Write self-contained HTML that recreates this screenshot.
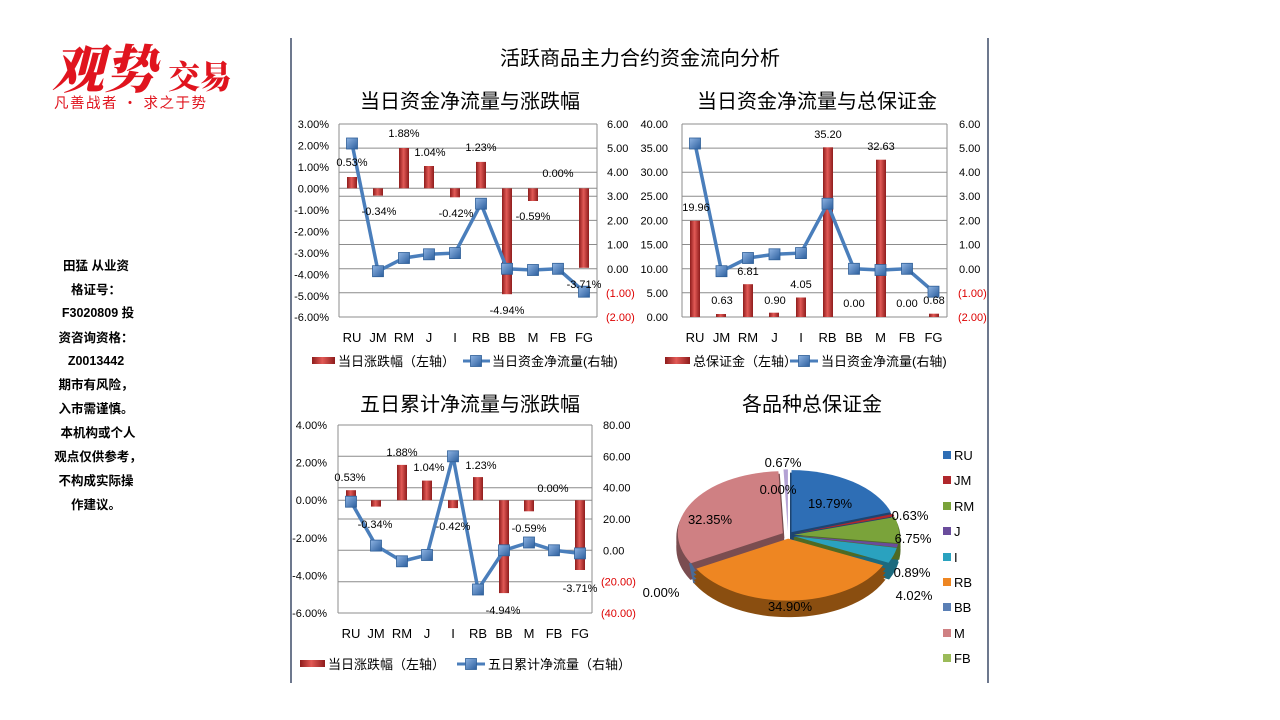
<!DOCTYPE html>
<html><head><meta charset="utf-8"><style>
html,body{margin:0;padding:0;background:#fff;}
svg{display:block;font-family:"Liberation Sans","Noto Sans CJK SC",sans-serif;}
</style></head><body>
<svg width="1280" height="720" viewBox="0 0 1280 720" xmlns="http://www.w3.org/2000/svg">
<defs>
<linearGradient id="bar" x1="0" x2="1" y1="0" y2="0"><stop offset="0" stop-color="#8e1c1c"/><stop offset="0.45" stop-color="#e25a56"/><stop offset="1" stop-color="#8e1c1c"/></linearGradient>
<linearGradient id="mk" x1="0" x2="1" y1="0" y2="1"><stop offset="0" stop-color="#8fb4e3"/><stop offset="1" stop-color="#2c5f9e"/></linearGradient>
<rect id="m" x="-5.5" y="-5.5" width="11" height="11" fill="url(#mk)" stroke="#2f5f98" stroke-width="0.8"/>
</defs>
<rect width="1280" height="720" fill="#fff"/>
<!-- logo -->
<text x="52" y="88" font-family="'Noto Serif CJK SC',serif" font-size="52" font-weight="900" fill="#e0141e" font-style="italic">观势</text>
<text x="168" y="88" font-family="'Noto Serif CJK SC',serif" font-size="32" font-weight="900" fill="#e0141e">交易</text>
<text x="54" y="108" font-family="'Noto Sans CJK SC',sans-serif" font-size="14.5" fill="#e0141e" letter-spacing="1.5">凡善战者 · 求之于势</text>
<!-- left text -->
<g font-size="12.5" font-weight="bold" fill="#000" text-anchor="middle" font-family="'Liberation Sans','Noto Sans CJK SC',sans-serif">
<text x="96" y="270">田猛 从业资</text><text x="96" y="294">格证号：</text><text x="98" y="317">F3020809 投</text>
<text x="96" y="342">资咨询资格：</text><text x="96" y="365">Z0013442</text><text x="96" y="389">期市有风险，</text>
<text x="96" y="413">入市需谨慎。</text><text x="98" y="437">本机构或个人</text><text x="98" y="461">观点仅供参考，</text>
<text x="96" y="485">不构成实际操</text><text x="96" y="509">作建议。</text>
</g>
<line x1="291" y1="38" x2="291" y2="683" stroke="#1f2f50" stroke-width="1.3"/>
<line x1="988" y1="38" x2="988" y2="683" stroke="#1f2f50" stroke-width="1.3"/>
<!-- titles -->
<g font-size="20" text-anchor="middle" fill="#000">
<text x="640" y="65">活跃商品主力合约资金流向分析</text>
<text x="470" y="108">当日资金净流量与涨跌幅</text>
<text x="817" y="108">当日资金净流量与总保证金</text>
<text x="470" y="411">五日累计净流量与涨跌幅</text>
<text x="812" y="411">各品种总保证金</text>
</g>

<!-- CHART 1 -->
<g stroke="#8c8c8c" stroke-width="1">
<line x1="339" y1="124" x2="597" y2="124"/><line x1="339" y1="148.1" x2="597" y2="148.1"/><line x1="339" y1="172.2" x2="597" y2="172.2"/><line x1="339" y1="196.3" x2="597" y2="196.3"/><line x1="339" y1="220.4" x2="597" y2="220.4"/><line x1="339" y1="244.5" x2="597" y2="244.5"/><line x1="339" y1="268.8" x2="597" y2="268.8"/><line x1="339" y1="292.7" x2="597" y2="292.7"/><line x1="339" y1="317" x2="597" y2="317"/>
<line x1="339" y1="188.3" x2="597" y2="188.3"/>
<line x1="339" y1="124" x2="339" y2="317"/><line x1="597" y1="124" x2="597" y2="317"/>
</g>
<g font-size="11" text-anchor="end"><text x="329" y="128">3.00%</text><text x="329" y="149.5">2.00%</text><text x="329" y="171">1.00%</text><text x="329" y="192.5">0.00%</text><text x="329" y="214">-1.00%</text><text x="329" y="235.5">-2.00%</text><text x="329" y="257">-3.00%</text><text x="329" y="278.5">-4.00%</text><text x="329" y="300">-5.00%</text><text x="329" y="321">-6.00%</text></g>
<g font-size="11"><text x="607" y="128">6.00</text><text x="607" y="152">5.00</text><text x="607" y="176">4.00</text><text x="607" y="200">3.00</text><text x="607" y="224.5">2.00</text><text x="607" y="248.5">1.00</text><text x="607" y="273">0.00</text><text x="606" y="297" fill="#d00">(1.00)</text><text x="606" y="321" fill="#d00">(2.00)</text></g>
<g fill="url(#bar)">
<rect x="347" y="177" width="10" height="11.3"/><rect x="373" y="188.3" width="10" height="7.3"/><rect x="399" y="148" width="10" height="40.3"/><rect x="424" y="166" width="10" height="22.3"/><rect x="450" y="188.3" width="10" height="9"/><rect x="476" y="161.9" width="10" height="26.4"/><rect x="502" y="188.3" width="10" height="105.9"/><rect x="528" y="188.3" width="10" height="12.7"/><rect x="579" y="188.3" width="10" height="79.5"/>
</g>
<polyline points="352,143.5 378,271.2 404,258 429,254.3 455,253.1 481,203.7 507,268.8 533,270 558,268.8 584,291.7" fill="none" stroke="#4a7ebb" stroke-width="3.5"/>
<use href="#m" x="352" y="143.5"/><use href="#m" x="378" y="271.2"/><use href="#m" x="404" y="258"/><use href="#m" x="429" y="254.3"/><use href="#m" x="455" y="253.1"/><use href="#m" x="481" y="203.7"/><use href="#m" x="507" y="268.8"/><use href="#m" x="533" y="270"/><use href="#m" x="558" y="268.8"/><use href="#m" x="584" y="291.7"/>
<g font-size="11" text-anchor="middle"><text x="352" y="166">0.53%</text><text x="379" y="215">-0.34%</text><text x="404" y="137">1.88%</text><text x="430" y="156">1.04%</text><text x="456" y="217">-0.42%</text><text x="481" y="151">1.23%</text><text x="507" y="314">-4.94%</text><text x="533" y="220">-0.59%</text><text x="558" y="177">0.00%</text><text x="584" y="288">-3.71%</text></g>
<g font-size="13" text-anchor="middle"><text x="352" y="342">RU</text><text x="378" y="342">JM</text><text x="404" y="342">RM</text><text x="429" y="342">J</text><text x="455" y="342">I</text><text x="481" y="342">RB</text><text x="507" y="342">BB</text><text x="533" y="342">M</text><text x="558" y="342">FB</text><text x="584" y="342">FG</text></g>
<rect x="312" y="357" width="23" height="7" fill="url(#bar)"/><text x="338" y="366" font-size="13">当日涨跌幅（左轴）</text>
<line x1="463" y1="361" x2="490" y2="361" stroke="#4a7ebb" stroke-width="3"/><use href="#m" x="476" y="361"/><text x="492" y="366" font-size="13">当日资金净流量(右轴)</text>

<!-- CHART 2 -->
<g stroke="#8c8c8c" stroke-width="1">
<line x1="682" y1="124" x2="947" y2="124"/><line x1="682" y1="148.1" x2="947" y2="148.1"/><line x1="682" y1="172.2" x2="947" y2="172.2"/><line x1="682" y1="196.3" x2="947" y2="196.3"/><line x1="682" y1="220.4" x2="947" y2="220.4"/><line x1="682" y1="244.5" x2="947" y2="244.5"/><line x1="682" y1="268.8" x2="947" y2="268.8"/><line x1="682" y1="292.7" x2="947" y2="292.7"/><line x1="682" y1="317" x2="947" y2="317"/>
<line x1="682" y1="124" x2="682" y2="317"/><line x1="947" y1="124" x2="947" y2="317"/>
</g>
<g font-size="11" text-anchor="end"><text x="668" y="128">40.00</text><text x="668" y="152">35.00</text><text x="668" y="176">30.00</text><text x="668" y="200">25.00</text><text x="668" y="224.5">20.00</text><text x="668" y="248.5">15.00</text><text x="668" y="273">10.00</text><text x="668" y="297">5.00</text><text x="668" y="321">0.00</text></g>
<g font-size="11"><text x="959" y="128">6.00</text><text x="959" y="152">5.00</text><text x="959" y="176">4.00</text><text x="959" y="200">3.00</text><text x="959" y="224.5">2.00</text><text x="959" y="248.5">1.00</text><text x="959" y="273">0.00</text><text x="958" y="297" fill="#d00">(1.00)</text><text x="958" y="321" fill="#d00">(2.00)</text></g>
<g fill="url(#bar)">
<rect x="690" y="220.8" width="10" height="96.2"/><rect x="716" y="314" width="10" height="3"/><rect x="743" y="284.2" width="10" height="32.8"/><rect x="769" y="312.7" width="10" height="4.3"/><rect x="796" y="297.5" width="10" height="19.5"/><rect x="823" y="147.3" width="10" height="169.7"/><rect x="876" y="159.7" width="10" height="157.3"/><rect x="929" y="313.7" width="10" height="3.3"/>
</g>
<polyline points="695,143.5 721.5,271.2 748,258 774.5,254.3 801,253.1 827.5,203.7 854,268.8 880.5,270 907,268.8 933.5,291.7" fill="none" stroke="#4a7ebb" stroke-width="3.5"/>
<use href="#m" x="695" y="143.5"/><use href="#m" x="721.5" y="271.2"/><use href="#m" x="748" y="258"/><use href="#m" x="774.5" y="254.3"/><use href="#m" x="801" y="253.1"/><use href="#m" x="827.5" y="203.7"/><use href="#m" x="854" y="268.8"/><use href="#m" x="880.5" y="270"/><use href="#m" x="907" y="268.8"/><use href="#m" x="933.5" y="291.7"/>
<g font-size="11" text-anchor="middle"><text x="696" y="211">19.96</text><text x="722" y="304">0.63</text><text x="748" y="275">6.81</text><text x="775" y="304">0.90</text><text x="801" y="288">4.05</text><text x="828" y="138">35.20</text><text x="854" y="307">0.00</text><text x="881" y="150">32.63</text><text x="907" y="307">0.00</text><text x="934" y="304">0.68</text></g>
<g font-size="13" text-anchor="middle"><text x="695" y="342">RU</text><text x="721.5" y="342">JM</text><text x="748" y="342">RM</text><text x="774.5" y="342">J</text><text x="801" y="342">I</text><text x="827.5" y="342">RB</text><text x="854" y="342">BB</text><text x="880.5" y="342">M</text><text x="907" y="342">FB</text><text x="933.5" y="342">FG</text></g>
<rect x="665" y="357" width="25" height="7" fill="url(#bar)"/><text x="693" y="366" font-size="13">总保证金（左轴）</text>
<line x1="790" y1="361" x2="818" y2="361" stroke="#4a7ebb" stroke-width="3"/><use href="#m" x="804" y="361"/><text x="821" y="366" font-size="13">当日资金净流量(右轴)</text>

<!-- CHART 3 -->
<g stroke="#8c8c8c" stroke-width="1">
<line x1="338" y1="425" x2="592" y2="425"/><line x1="338" y1="456.3" x2="592" y2="456.3"/><line x1="338" y1="487.7" x2="592" y2="487.7"/><line x1="338" y1="519" x2="592" y2="519"/><line x1="338" y1="550.3" x2="592" y2="550.3"/><line x1="338" y1="581.7" x2="592" y2="581.7"/><line x1="338" y1="613" x2="592" y2="613"/>
<line x1="338" y1="500.2" x2="592" y2="500.2"/>
<line x1="338" y1="425" x2="338" y2="613"/><line x1="592" y1="425" x2="592" y2="613"/>
</g>
<g font-size="11" text-anchor="end"><text x="327" y="429">4.00%</text><text x="327" y="466.6">2.00%</text><text x="327" y="504.2">0.00%</text><text x="327" y="541.8">-2.00%</text><text x="327" y="579.4">-4.00%</text><text x="327" y="617">-6.00%</text></g>
<g font-size="11"><text x="603" y="429">80.00</text><text x="603" y="460.3">60.00</text><text x="603" y="491.7">40.00</text><text x="603" y="523">20.00</text><text x="603" y="554.3">0.00</text><text x="601" y="585.7" fill="#d00">(20.00)</text><text x="601" y="617" fill="#d00">(40.00)</text></g>
<g fill="url(#bar)">
<rect x="346" y="490.2" width="10" height="10"/><rect x="371" y="500.2" width="10" height="6.4"/><rect x="397" y="464.9" width="10" height="35.3"/><rect x="422" y="480.6" width="10" height="19.6"/><rect x="448" y="500.2" width="10" height="7.9"/><rect x="473" y="477.1" width="10" height="23.1"/><rect x="499" y="500.2" width="10" height="92.9"/><rect x="524" y="500.2" width="10" height="11.1"/><rect x="575" y="500.2" width="10" height="69.8"/>
</g>
<polyline points="351,501.7 376,545.6 402,561.3 427,555 453,456.3 478,589.5 504,550.3 529,542.5 554,550.3 580,553.4" fill="none" stroke="#4a7ebb" stroke-width="3.5"/>
<use href="#m" x="351" y="501.7"/><use href="#m" x="376" y="545.6"/><use href="#m" x="402" y="561.3"/><use href="#m" x="427" y="555"/><use href="#m" x="453" y="456.3"/><use href="#m" x="478" y="589.5"/><use href="#m" x="504" y="550.3"/><use href="#m" x="529" y="542.5"/><use href="#m" x="554" y="550.3"/><use href="#m" x="580" y="553.4"/>
<g font-size="11" text-anchor="middle"><text x="350" y="481">0.53%</text><text x="375" y="528">-0.34%</text><text x="402" y="456">1.88%</text><text x="429" y="471">1.04%</text><text x="453" y="530">-0.42%</text><text x="481" y="469">1.23%</text><text x="503" y="614">-4.94%</text><text x="529" y="532">-0.59%</text><text x="553" y="492">0.00%</text><text x="580" y="592">-3.71%</text></g>
<g font-size="13" text-anchor="middle"><text x="351" y="638">RU</text><text x="376" y="638">JM</text><text x="402" y="638">RM</text><text x="427" y="638">J</text><text x="453" y="638">I</text><text x="478" y="638">RB</text><text x="504" y="638">BB</text><text x="529" y="638">M</text><text x="554" y="638">FB</text><text x="580" y="638">FG</text></g>
<rect x="300" y="660" width="25" height="7" fill="url(#bar)"/><text x="328" y="669" font-size="13">当日涨跌幅（左轴）</text>
<line x1="457" y1="664" x2="485" y2="664" stroke="#4a7ebb" stroke-width="3"/><use href="#m" x="471" y="664"/><text x="488" y="669" font-size="13">五日累计净流量（右轴）</text>

<!-- PIE -->
<defs>
<path id="pRU" d="M791.5 532.1 L791.5 470.1 A105 62 0 0 1 890.9 512.1 Z"/>
<path id="pJM" d="M793.7 533.9 L893.1 513.9 A105 62 0 0 1 894.4 516.3 Z"/>
<path id="pRM" d="M794 534.7 L894.7 517.1 A105 62 0 0 1 898.1 543.1 Z"/>
<path id="pJ" d="M793.9 535.6 L898 544 A105 62 0 0 1 897 547.4 Z"/>
<path id="pI" d="M793.7 536.1 L896.8 547.9 A105 62 0 0 1 888.5 562.8 Z"/>
<path id="pRB" d="M788.2 538.6 L883 565.3 A105 62 0 0 1 696.3 568.6 Z"/>
<path id="pM" d="M782.8 533.2 L690.9 563.2 A105 62 0 0 1 778.4 471.3 Z"/>
<path id="pFG" d="M787.9 531.4 L783.5 469.5 A105 62 0 0 1 787.9 469.4 Z"/>
</defs>
<g>
<g fill="#1d4470" stroke="#1d4470" stroke-width="3"><use href="#pRU" y="4"/><use href="#pRU" y="8"/><use href="#pRU" y="12"/><use href="#pRU" y="15"/></g>
<g fill="#7a4d50" stroke="#7a4d50" stroke-width="3"><use href="#pM" y="4"/><use href="#pM" y="8"/><use href="#pM" y="12"/><use href="#pM" y="15"/></g>
<g fill="#4a6a96" stroke="#4a6a96" stroke-width="2"><path d="M690 563 L694 582 L700 580 Z"/></g>
<g fill="#1c6a7e" stroke="#1c6a7e" stroke-width="3"><use href="#pI" y="4"/><use href="#pI" y="8"/><use href="#pI" y="12"/><use href="#pI" y="15"/></g>
<g fill="#4e6a24" stroke="#4e6a24" stroke-width="3"><use href="#pRM" y="4"/><use href="#pRM" y="8"/><use href="#pRM" y="12"/><use href="#pRM" y="15"/></g>
<g fill="#8a4e10" stroke="#8a4e10" stroke-width="3"><use href="#pRB" y="4"/><use href="#pRB" y="8"/><use href="#pRB" y="12"/><use href="#pRB" y="15"/></g>
<use href="#pRU" fill="#2e6eb5"/>
<use href="#pJM" fill="#b0282c"/>
<use href="#pRM" fill="#7aa33a"/>
<use href="#pJ" fill="#6a4c9c"/>
<use href="#pI" fill="#2aa2bf"/>
<use href="#pRB" fill="#ee8622"/>
<use href="#pM" fill="#cf8083"/>
<use href="#pFG" fill="#b4a2d4"/>
</g>
<g font-size="13" text-anchor="middle" fill="#000">
<text x="830" y="508">19.79%</text><text x="910" y="520">0.63%</text><text x="913" y="543">6.75%</text><text x="912" y="577">0.89%</text><text x="914" y="600">4.02%</text><text x="790" y="611">34.90%</text><text x="710" y="524">32.35%</text><text x="661" y="597">0.00%</text><text x="778" y="494">0.00%</text><text x="783" y="467">0.67%</text>
</g>
<g font-size="13">
<rect x="943" y="451" width="8" height="8" fill="#2e6eb5"/><text x="954" y="460">RU</text>
<rect x="943" y="476" width="8" height="8" fill="#b0282c"/><text x="954" y="485">JM</text>
<rect x="943" y="502" width="8" height="8" fill="#7aa33a"/><text x="954" y="511">RM</text>
<rect x="943" y="527" width="8" height="8" fill="#6a4c9c"/><text x="954" y="536">J</text>
<rect x="943" y="553" width="8" height="8" fill="#2aa2bf"/><text x="954" y="562">I</text>
<rect x="943" y="578" width="8" height="8" fill="#ee8622"/><text x="954" y="587">RB</text>
<rect x="943" y="603" width="8" height="8" fill="#5a7fb5"/><text x="954" y="612">BB</text>
<rect x="943" y="629" width="8" height="8" fill="#cf8083"/><text x="954" y="638">M</text>
<rect x="943" y="654" width="8" height="8" fill="#9bbb59"/><text x="954" y="663">FB</text>
</g>
</svg>
</body></html>
